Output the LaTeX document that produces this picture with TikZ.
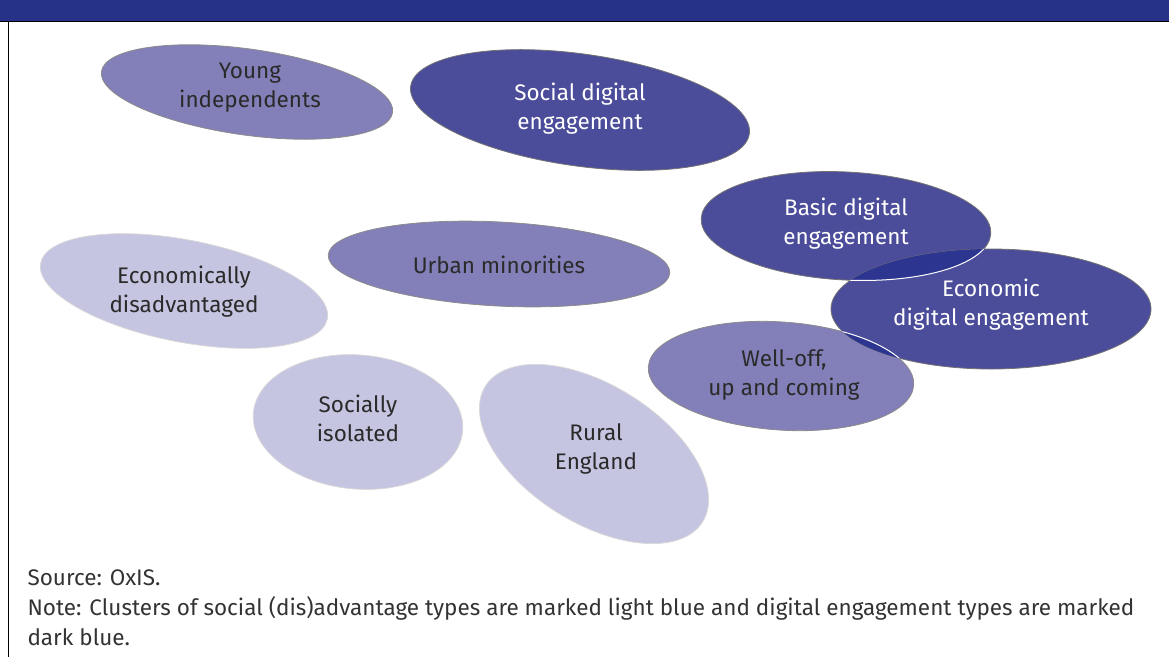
\documentclass[tikz,border=0pt]{standalone}
\usepackage{fontspec}
\setmainfont{Fira Sans}
\usepackage{tikz}

\definecolor{headblue}{HTML}{253287}
\definecolor{lightblob}{HTML}{C5C4E1}
\definecolor{midblob}{HTML}{837FB8}
\definecolor{darkblob}{HTML}{4B4C9A}
\definecolor{lensblob}{HTML}{2C3590}
\definecolor{inktext}{HTML}{2A2A2A}

\tikzset{
  lightcl/.style={fill=lightblob, draw=black!15, line width=0.8pt},
  midcl/.style={fill=midblob, draw=black!45, line width=0.8pt},
  darkcl/.style={fill=darkblob, draw=black!55, line width=0.8pt},
  lbl/.style={align=center, text=inktext, font=\fontsize{22.5}{29}\selectfont},
  wlbl/.style={lbl, text=white},
  notetext/.style={anchor=base west, align=left, text=black!80, font=\fontsize{22.5}{30}\selectfont}
}

\begin{document}
\begin{tikzpicture}[x=1pt, y=-1pt]
\useasboundingbox (0,0) rectangle (1169,657);
\fill[headblue] (0,0) rectangle (1169,21);
\draw[black, line width=0.8pt] (0,21) -- (1169,21);
\draw[black, line width=0.8pt] (8,21) -- (8,657);

% clusters
\filldraw[midcl, rotate around={-8:(247,92)}] (247,92) ellipse (147 and 43);
\filldraw[darkcl, rotate around={-8:(580,110)}] (580,110) ellipse (171 and 56);
\filldraw[midcl, rotate around={-3:(499,264)}] (499,264) ellipse (171 and 42);
\filldraw[lightcl, rotate around={-11:(184,291)}] (184,291) ellipse (146 and 51);
\filldraw[lightcl, rotate around={-5:(358,422)}] (358,422) ellipse (105 and 67);
\filldraw[lightcl, rotate around={-32:(594,454)}] (594,454) ellipse (128 and 69);
\filldraw[darkcl, rotate around={-3:(846,226)}] (846,226) ellipse (145 and 54);
\filldraw[midcl, rotate around={-4:(781,376)}] (781,376) ellipse (133 and 54);
\filldraw[darkcl] (991,309) ellipse (160 and 60);

% overlaps
\begin{scope}
  \clip (991,309) ellipse (160 and 60);
  \filldraw[fill=lensblob, draw=white, line width=1pt, rotate around={-3:(846,226)}] (846,226) ellipse (145 and 54);
  \filldraw[fill=lensblob, draw=white, line width=1pt, rotate around={-4:(781,376)}] (781,376) ellipse (133 and 54);
\end{scope}

\node[lbl] (young) at (250,88) {Young\\independents};
\node[wlbl] (social) at (580,109) {Social digital\\engagement};
\node[wlbl] (basic) at (846,224) {Basic digital\\engagement};
\node[wlbl] (econdig) at (991,305) {Economic\\digital engagement};
\node[lbl] (welloff) at (784,375) {Well-off,\\up and coming};
\node[lbl] (urban) at (499,265) {Urban minorities};
\node[lbl] (econdis) at (184,292) {Economically\\disadvantaged};
\node[lbl] (isolated) at (358,418) {Socially\\isolated};
\node[lbl] (rural) at (596,449) {Rural\\England};

\node[notetext] (source) at (24,585) {Source: OxIS.};
\node[notetext] (note) at (24,645) {Note: Clusters of social (dis)advantage types are marked light blue and digital engagement types are marked\\dark blue.};
\end{tikzpicture}
\end{document}
